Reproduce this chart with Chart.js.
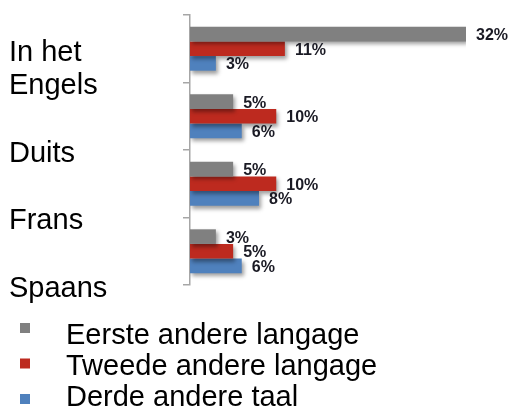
<!DOCTYPE html>
<html>
<head>
<meta charset="utf-8">
<script src="https://cdn.jsdelivr.net/npm/chart.js@4/dist/chart.umd.min.js"></script>
<style>
  html, body { margin: 0; padding: 0; background: #ffffff; }
  #c { display: block; }
</style>
</head>
<body>
<canvas id="c" width="514" height="412"></canvas>
<script>
// Languages and the share of respondents naming each as first/second/third other language
const categories = [['In het', 'Engels'], 'Duits', 'Frans', 'Spaans'];
const seriesNames = ['Eerste andere langage', 'Tweede andere langage', 'Derde andere taal'];
const eerste = [32, 5, 5, 3];
const tweede = [11, 10, 10, 5];
const derde = [3, 6, 8, 6];
const seriesColors = ['#808080', '#BD2A1F', '#4F81BD'];

const LABEL_FONT = '29px "Liberation Sans", Arial, sans-serif';

// Soft drop shadow under the bars
const barShadow = {
  id: 'barShadow',
  beforeDatasetDraw(chart) {
    const ctx = chart.ctx;
    ctx.save();
    ctx.shadowColor = 'rgba(0,0,0,0.38)';
    ctx.shadowBlur = 4;
    ctx.shadowOffsetX = 2;
    ctx.shadowOffsetY = 3;
  },
  afterDatasetDraw(chart) {
    chart.ctx.restore();
  }
};

// Percent labels to the right of each bar
const valueLabels = {
  id: 'valueLabels',
  afterDatasetsDraw(chart) {
    const ctx = chart.ctx;
    ctx.save();
    ctx.font = 'bold 16px "Liberation Sans", Arial, sans-serif';
    ctx.fillStyle = '#1a1a24';
    ctx.textAlign = 'left';
    ctx.textBaseline = 'middle';
    chart.data.datasets.forEach((ds, di) => {
      const meta = chart.getDatasetMeta(di);
      meta.data.forEach((bar, i) => {
        ctx.fillText(ds.data[i] + '%', bar.x + 10, bar.y + 1.5);
      });
    });
    ctx.restore();
  }
};

// Category names, set against the lower boundary of each band
const categoryLabels = {
  id: 'categoryLabels',
  afterDraw(chart) {
    const ctx = chart.ctx;
    const y = chart.scales.y;
    const band = (y.bottom - y.top) / chart.data.labels.length;
    ctx.save();
    ctx.font = LABEL_FONT;
    ctx.fillStyle = '#000000';
    ctx.textAlign = 'left';
    ctx.textBaseline = 'alphabetic';
    chart.data.labels.forEach((lab, i) => {
      const lines = Array.isArray(lab) ? lab : [lab];
      const base = y.getPixelForValue(i) + band / 2 + 11.5;
      lines.forEach((line, k) => {
        ctx.fillText(line, 9, base - (lines.length - 1 - k) * 33);
      });
    });
    ctx.restore();
  }
};

// Stacked legend below the plot
const stackedLegend = {
  id: 'stackedLegend',
  afterDraw(chart) {
    const ctx = chart.ctx;
    ctx.save();
    ctx.font = LABEL_FONT;
    ctx.textAlign = 'left';
    ctx.textBaseline = 'alphabetic';
    chart.data.datasets.forEach((ds, i) => {
      ctx.fillStyle = ds.backgroundColor;
      ctx.fillRect(20, 323 + i * 35.5, 10, 10);
      ctx.fillStyle = '#000000';
      ctx.fillText(ds.label, 66, 344 + i * 31);
    });
    ctx.restore();
  }
};

const values = [eerste, tweede, derde];

new Chart(document.getElementById('c'), {
  type: 'bar',
  data: {
    labels: categories,
    datasets: seriesNames.map((name, i) => ({
      label: name,
      data: values[i],
      backgroundColor: seriesColors[i],
      borderWidth: 0,
      categoryPercentage: 0.65,
      barPercentage: 1.0
    }))
  },
  options: {
    indexAxis: 'y',
    responsive: false,
    animation: false,
    devicePixelRatio: 1,
    layout: { padding: { top: 15, right: 48, bottom: 127, left: 0 } },
    plugins: {
      legend: { display: false },
      tooltip: { enabled: false }
    },
    scales: {
      x: {
        display: false,
        min: 0,
        max: 32
      },
      y: {
        offset: true,
        grid: {
          display: true,
          offset: true,
          drawOnChartArea: false,
          drawTicks: true,
          tickLength: 7,
          color: '#a6a6a6',
          lineWidth: 1.5
        },
        border: { display: true, color: '#a6a6a6', width: 1.5 },
        ticks: { display: false },
        afterFit(scale) { scale.width = 190; }
      }
    }
  },
  plugins: [barShadow, valueLabels, categoryLabels, stackedLegend]
});
</script>
</body>
</html>
